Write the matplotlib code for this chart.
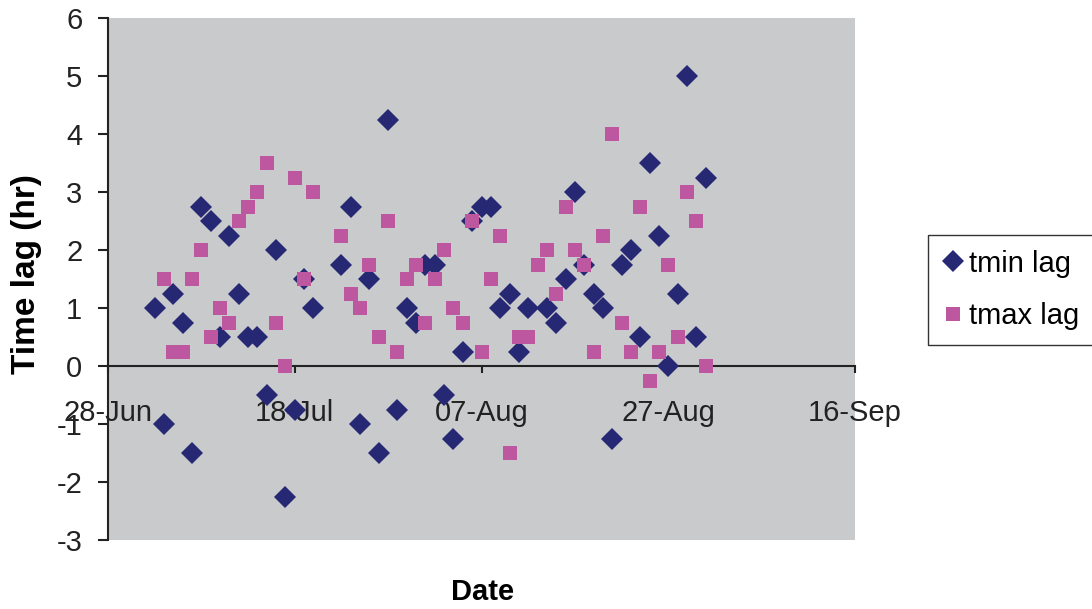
import matplotlib
matplotlib.use("Agg")
import matplotlib.pyplot as plt
import matplotlib.dates as mdates
import pandas as pd

plt.rcParams['font.family'] = ['Liberation Sans', 'DejaVu Sans']
plt.rcParams['axes.unicode_minus'] = False

YEAR = "2000"

tmin_dates = ["07-03", "07-04", "07-05", "07-06", "07-07", "07-08", "07-09", "07-10", "07-11",
              "07-12", "07-13", "07-14", "07-15", "07-16", "07-17", "07-18", "07-19", "07-20",
              "07-23", "07-24", "07-25", "07-26", "07-27", "07-28", "07-29", "07-30", "07-31",
              "08-01", "08-02", "08-03", "08-04", "08-05", "08-06", "08-07", "08-08", "08-09",
              "08-10", "08-11", "08-12",
              "08-14", "08-15", "08-16", "08-17", "08-18", "08-19", "08-20", "08-21", "08-22",
              "08-23", "08-24", "08-25", "08-26", "08-27", "08-28", "08-29", "08-30", "08-31"]
tmin_lag = [1.0, -1.0, 1.25, 0.75, -1.5, 2.75, 2.5, 0.5, 2.25,
            1.25, 0.5, 0.5, -0.5, 2.0, -2.25, -0.75, 1.5, 1.0,
            1.75, 2.75, -1.0, 1.5, -1.5, 4.25, -0.75, 1.0, 0.75,
            1.75, 1.75, -0.5, -1.25, 0.25, 2.5, 2.75, 2.75, 1.0,
            1.25, 0.25, 1.0,
            1.0, 0.75, 1.5, 3.0, 1.75, 1.25, 1.0, -1.25, 1.75,
            2.0, 0.5, 3.5, 2.25, 0.0, 1.25, 5.0, 0.5, 3.25]

tmax_dates = ["07-04", "07-05", "07-06", "07-07", "07-08", "07-09", "07-10", "07-11", "07-12",
              "07-13", "07-14", "07-15", "07-16", "07-17", "07-18", "07-19", "07-20",
              "07-23", "07-24", "07-25", "07-26", "07-27", "07-28", "07-29", "07-30", "07-31",
              "08-01", "08-02", "08-03", "08-04", "08-05", "08-06", "08-07", "08-08", "08-09",
              "08-10", "08-11", "08-12", "08-13", "08-14", "08-15", "08-16", "08-17", "08-18",
              "08-19", "08-20", "08-21", "08-22", "08-23", "08-24", "08-25", "08-26", "08-27",
              "08-28", "08-29", "08-30", "08-31"]
tmax_lag = [1.5, 0.25, 0.25, 1.5, 2.0, 0.5, 1.0, 0.75, 2.5,
            2.75, 3.0, 3.5, 0.75, 0.0, 3.25, 1.5, 3.0,
            2.25, 1.25, 1.0, 1.75, 0.5, 2.5, 0.25, 1.5, 1.75,
            0.75, 1.5, 2.0, 1.0, 0.75, 2.5, 0.25, 1.5, 2.25,
            -1.5, 0.5, 0.5, 1.75, 2.0, 1.25, 2.75, 2.0, 1.75,
            0.25, 2.25, 4.0, 0.75, 0.25, 2.75, -0.25, 0.25, 1.75,
            0.5, 3.0, 2.5, 0.0]

x_tick_dates = ["06-28", "07-18", "08-07", "08-27", "09-16"]
y_ticks = [-3, -2, -1, 0, 1, 2, 3, 4, 5, 6]

to_dt = lambda lst: pd.to_datetime([f"{YEAR}-{d}" for d in lst])

fig = plt.figure(figsize=(10.92, 6.09), dpi=100)
ax = fig.add_axes([108/1092, 69/609, 747/1092, 522/609])
ax.set_facecolor('#C9CACC')

ax.plot(to_dt(tmin_dates), tmin_lag, linestyle='none', marker='D', ms=11,
        color='#272873', markeredgewidth=0, label='tmin lag', zorder=3)
ax.plot(to_dt(tmax_dates), tmax_lag, linestyle='none', marker='s', ms=10,
        color='#BC57A0', markeredgewidth=0, label='tmax lag', zorder=3)

xt = to_dt(x_tick_dates)
ax.set_xlim(xt[0], xt[-1])
ax.set_xticks(xt)
ax.xaxis.set_major_formatter(mdates.DateFormatter('%d-%b'))
ax.set_ylim(-3, 6)
ax.set_yticks(y_ticks)

for s in ['top', 'right']:
    ax.spines[s].set_visible(False)
ax.spines['bottom'].set_position(('data', 0))
ax.spines['bottom'].set_linewidth(1.5)
ax.spines['left'].set_linewidth(1.5)
ax.spines['bottom'].set_color('#222222')
ax.spines['left'].set_color('#222222')

ax.tick_params(axis='y', direction='out', length=7, width=1.5, labelsize=21, pad=11.5, colors='#222222')
ax.tick_params(axis='x', direction='out', length=5, width=1.5, labelsize=21, pad=19, colors='#222222')

ax.set_xlabel('Date', fontsize=21, fontweight='bold')
ax.xaxis.set_label_coords((483-108)/747, (540-592)/522)
ax.xaxis.label.set_va('center')
ax.set_ylabel('Time lag (hr)', fontsize=24, fontweight='bold')
ax.yaxis.set_label_coords((27-108)/747, (540-274)/522)
ax.yaxis.label.set_va('center')

leg = fig.legend(loc='center left', bbox_to_anchor=(928/1092, 1-290/609), fontsize=21,
                 frameon=True, fancybox=False, edgecolor='black', handletextpad=0.2,
                 handlelength=0.7, borderpad=0.5, labelspacing=0.85, borderaxespad=0)
leg.get_frame().set_linewidth(1.0)

fig.savefig('out.png', dpi=100)
